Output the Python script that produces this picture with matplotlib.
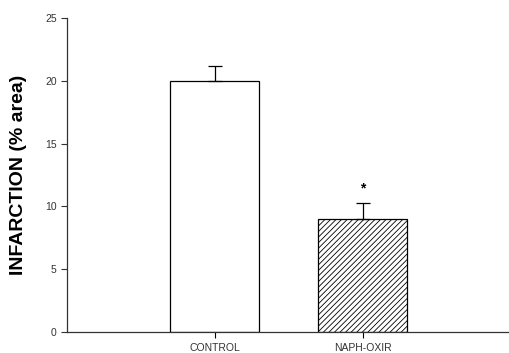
import matplotlib
matplotlib.use("Agg")
import matplotlib.pyplot as plt

categories = ["CONTROL", "NAPH-OXIR"]
values = [20.0, 9.0]
errors = [1.2, 1.3]
yticks = [0, 5, 10, 15, 20, 25]

plt.rcParams['font.family'] = ['Liberation Sans', 'DejaVu Sans']
plt.rcParams['hatch.linewidth'] = 0.6

fig = plt.figure(figsize=(5.09, 3.53), dpi=100)
ax = fig.add_axes([67/509, 21/353, (509-67)/509, 314/353])

x = list(range(len(categories)))
bars = ax.bar(x, values, width=0.6, color='white', edgecolor='black', linewidth=0.9, zorder=2)
bars[1].set_hatch('//////')
ax.errorbar(x, values, yerr=[[0, 0], errors], fmt='none', ecolor='black',
            elinewidth=0.9, capsize=5, capthick=0.9, zorder=3)
ax.text(x[1], values[1] + errors[1] + 0.6, '*', ha='center', va='bottom', fontsize=10, fontweight='bold')

ax.set_xlim(-1, 1.99)
ax.set_ylim(0, 25)
ax.set_yticks(yticks)
ax.set_xticks(x)
ax.set_xticklabels(categories, fontsize=7.5, color='#333333')
ax.tick_params(axis='y', labelsize=7.5, length=4, width=0.8, direction='out', colors='#333333', labelcolor='#333333')
ax.tick_params(axis='x', length=4, width=0.8, direction='out', pad=4)
for s in ['top', 'right']:
    ax.spines[s].set_visible(False)
for s in ['left', 'bottom']:
    ax.spines[s].set_linewidth(0.9)
    ax.spines[s].set_color('#333333')
ax.set_ylabel('INFARCTION (% area)', fontsize=14, fontweight='bold', labelpad=13)

fig.savefig('out.png', dpi=100)
